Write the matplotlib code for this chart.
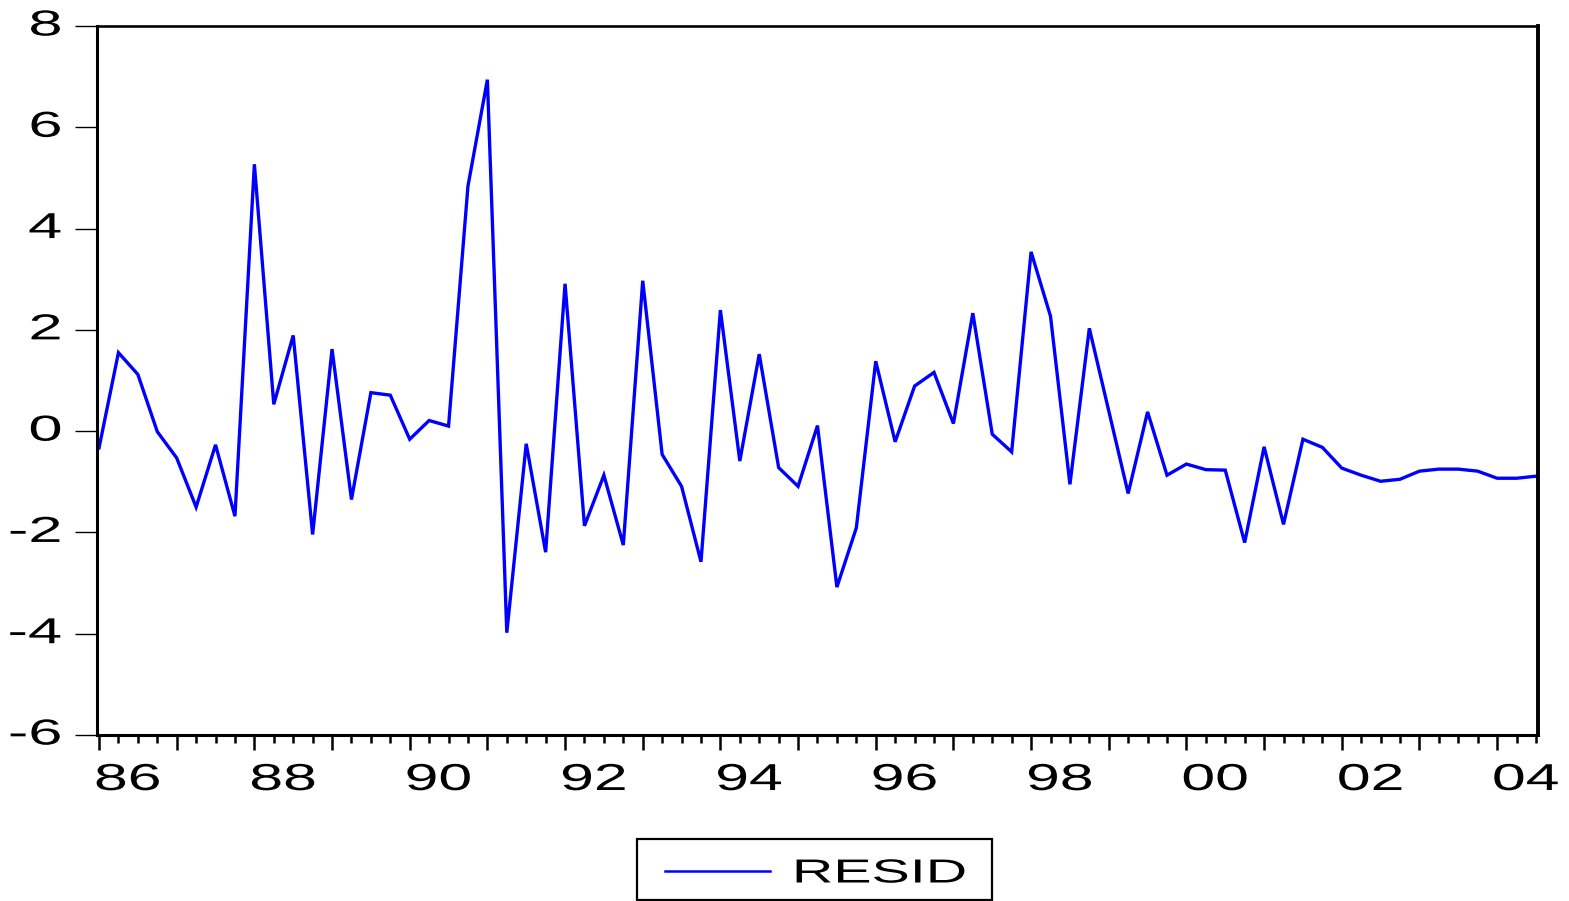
import numpy as np
import pandas as pd
import matplotlib
matplotlib.use("Agg")
import matplotlib.pyplot as plt
from matplotlib.patheffects import AbstractPathEffect
from matplotlib.transforms import Affine2D, blended_transform_factory
from matplotlib.patches import Rectangle
from matplotlib.lines import Line2D

# ---------------- data ----------------
start_period = "1986Q1"
series_name = "RESID"
resid = [
    -0.33, 1.55, 1.12, -0.01, -0.53, -1.50, -0.27, -1.68,
    5.27, 0.53, 1.89, -2.04, 1.62, -1.35, 0.76, 0.71,
    -0.16, 0.21, 0.10, 4.84, 6.94, -3.98, -0.25, -2.39,
    2.91, -1.87, -0.87, -2.25, 2.97, -0.46, -1.09, -2.58,
    2.39, -0.59, 1.52, -0.72, -1.09, 0.11, -3.08, -1.91,
    1.38, -0.21, 0.89, 1.16, 0.15, 2.33, -0.06, -0.41,
    3.54, 2.27, -1.05, 2.03, 0.40, -1.23, 0.38, -0.87,
    -0.65, -0.76, -0.77, -2.20, -0.31, -1.84, -0.16, -0.32,
    -0.73, -0.87, -0.99, -0.95, -0.79, -0.75, -0.75, -0.79,
    -0.93, -0.93, -0.89,
]
label_years = [1986, 1988, 1990, 1992, 1994, 1996, 1998, 2000, 2002, 2004]
year_labels = ["86", "88", "90", "92", "94", "96", "98", "00", "02", "04"]
y_ticks = [-6, -4, -2, 0, 2, 4, 6, 8]
y_tick_labels = ["-6", "-4", "-2", "0", "2", "4", "6", "8"]

periods = pd.period_range(start_period, periods=len(resid), freq="Q")
x = np.asarray(periods.year + (periods.quarter - 1) / 4.0, dtype=float)


# horizontally widened text (reference glyphs are stretched)
class HStretch(AbstractPathEffect):
    def __init__(self, sx, anchor="center"):
        super().__init__()
        self.sx = sx
        self.anchor = anchor

    def draw_path(self, renderer, gc, tpath, affine, rgbFace=None):
        ext = tpath.get_extents()
        if self.anchor == "left":
            a = ext.x0
        elif self.anchor == "right":
            a = ext.x1
        else:
            a = 0.5 * (ext.x0 + ext.x1)
        t = Affine2D().translate(-a, 0).scale(self.sx, 1.0).translate(a, 0)
        renderer.draw_path(gc, tpath, t + affine, rgbFace)


plt.rcParams["axes.unicode_minus"] = False
plt.rcParams["font.family"] = ["Liberation Sans", "DejaVu Sans"]

W, H = 1569, 901
fig = plt.figure(figsize=(W / 100, H / 100), dpi=100)
left_px, right_px, top_px, bottom_px = 96.7, 1537.5, 26.0, 735.0
ax = fig.add_axes([left_px / W, 1 - bottom_px / H,
                   (right_px - left_px) / W, (bottom_px - top_px) / H])

line_color = "#0000FF"
ax.plot(x, resid, color=line_color, lw=2.4, solid_joinstyle="miter",
        label=series_name)

ax.set_xlim(x[0] - 0.03, x[-1] + 0.02)
ax.set_ylim(-6, 8)

# spines
for s in ["left", "bottom", "top"]:
    ax.spines[s].set_linewidth(2.2)
ax.spines["top"].set_linewidth(1.9)
ax.spines["right"].set_linewidth(2.8)

# ticks
ax.set_yticks(y_ticks)
ax.set_yticklabels([""] * len(y_ticks))
ax.set_xticks(np.arange(1986, 2005, 1.0))
ax.set_xticks(x, minor=True)
ax.set_xticklabels([""] * len(ax.get_xticks()))
ax.tick_params(axis="y", which="major", direction="out", length=15.5,
               width=1.0, left=True, right=False)
ax.tick_params(axis="x", which="major", direction="out", length=11,
               width=1.8, bottom=True, top=False)
ax.tick_params(axis="x", which="minor", direction="out", length=6,
               width=1.8, bottom=True, top=False)

# y tick labels
ytrans = blended_transform_factory(ax.transAxes, ax.transData)
ylab_x = (61.5 - left_px) / (right_px - left_px)
for v, lab in zip(y_ticks, y_tick_labels):
    t = ax.text(ylab_x, v, lab, transform=ytrans, ha="right", va="center",
                fontsize=26, color="black", clip_on=False)
    t.set_path_effects([HStretch(1.7, "right")])

# x tick labels (centered within year span)
xtrans = blended_transform_factory(ax.transData, ax.transAxes)
xlab_y = (bottom_px - 762.0) / (bottom_px - top_px)
for yr, lab in zip(label_years, year_labels):
    t = ax.text(yr + 0.37, xlab_y, lab, transform=xtrans, ha="center",
                va="top", fontsize=27, color="black", clip_on=False)
    t.set_path_effects([HStretch(1.62, "center")])

# legend (drawn in figure pixel coords)
def fx(px):
    return px / W


def fy(py):
    return 1 - py / H


box = Rectangle((fx(637), fy(899.5)), fx(992) - fx(637), fy(839) - fy(899.5),
                transform=fig.transFigure, fill=False, edgecolor="black",
                lw=1.6)
fig.add_artist(box)
fig.add_artist(Line2D([fx(665), fx(770)], [fy(871), fy(871)],
                      transform=fig.transFigure, color=line_color, lw=1.8))
lt = fig.text(fx(880), fy(874), series_name, ha="center", va="center",
              fontsize=24, color="black")
lt.set_path_effects([HStretch(1.72, "center")])

fig.savefig("out.png", dpi=100)
